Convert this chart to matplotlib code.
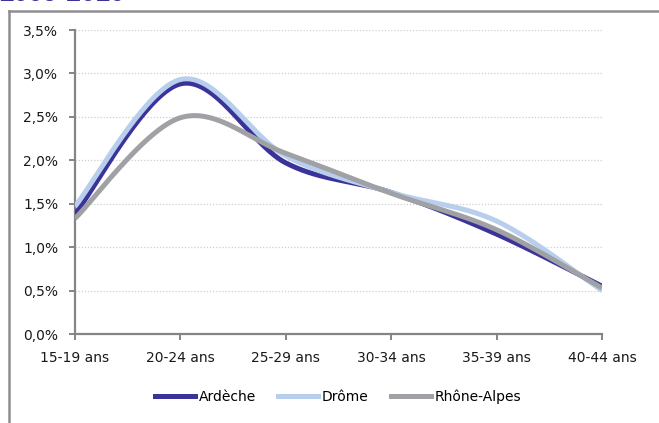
import numpy as np
import matplotlib.pyplot as plt
from matplotlib.lines import Line2D
from matplotlib.ticker import FuncFormatter

# age groups and shares (%)
ages = ['15-19 ans', '20-24 ans', '25-29 ans', '30-34 ans', '35-39 ans', '40-44 ans']
ardeche = [1.38, 2.88, 1.97, 1.63, 1.15, 0.55]
drome = [1.47, 2.93, 2.05, 1.63, 1.30, 0.50]
rhone_alpes = [1.33, 2.49, 2.08, 1.62, 1.20, 0.53]

series = [('Ardèche', ardeche, '#3b3399'),
          ('Drôme', drome, '#b7cfec'),
          ('Rhône-Alpes', rhone_alpes, '#a0a1a4')]


def smooth(y, n=40):
    # Catmull-Rom like bezier smoothing, similar to a spreadsheet "smoothed line"
    y = np.asarray(y, float)
    x = np.arange(len(y), dtype=float)
    px, py = [x[0]], [y[0]]
    for i in range(len(y) - 1):
        x0, y0 = (x[i - 1], y[i - 1]) if i > 0 else (x[i], y[i])
        x3, y3 = (x[i + 2], y[i + 2]) if i + 2 < len(y) else (x[i + 1], y[i + 1])
        c1 = (x[i] + (x[i + 1] - x0) / 6, y[i] + (y[i + 1] - y0) / 6)
        c2 = (x[i + 1] - (x3 - x[i]) / 6, y[i + 1] - (y3 - y[i]) / 6)
        t = np.linspace(0, 1, n)[1:]
        bx = (1 - t) ** 3 * x[i] + 3 * (1 - t) ** 2 * t * c1[0] + 3 * (1 - t) * t ** 2 * c2[0] + t ** 3 * x[i + 1]
        by = (1 - t) ** 3 * y[i] + 3 * (1 - t) ** 2 * t * c1[1] + 3 * (1 - t) * t ** 2 * c2[1] + t ** 3 * y[i + 1]
        px.extend(bx)
        py.extend(by)
    return np.array(px), np.array(py)


plt.rcParams['font.family'] = ['DejaVu Sans']

W, H = 659, 423
fig = plt.figure(figsize=(W / 100, H / 100), dpi=100)
ax = fig.add_axes([75 / W, 1 - 334 / H, (602 - 75) / W, (334 - 30) / H])

for name, vals, col in series:
    sx, sy = smooth(vals)
    ax.plot(sx, sy, color=col, lw=3.6, solid_capstyle='butt', label=name, zorder=3)

ax.set_xlim(0, len(ages) - 1)
ax.set_ylim(0, 3.5)
ax.set_xticks(range(len(ages)))
ax.set_xticklabels(ages)
ax.set_yticks(np.arange(0, 3.51, 0.5))
ax.yaxis.set_major_formatter(FuncFormatter(lambda v, p: f'{v:.1f}%'.replace('.', ',')))
ax.grid(axis='y', color='#cfcfcf', linestyle=(0, (1, 1.5)), lw=0.9)
ax.set_axisbelow(True)
for s in ['top', 'right']:
    ax.spines[s].set_visible(False)
for s in ['left', 'bottom']:
    ax.spines[s].set_color('#858585')
    ax.spines[s].set_linewidth(1.6)
ax.tick_params(direction='out', length=4, width=1.4, color='#858585',
               labelsize=10, labelcolor='#1a1a1a')
ax.tick_params(axis='x', pad=8)
ax.tick_params(axis='y', pad=8)

handles = [Line2D([], [], color=c, lw=3.6) for _, _, c in series]
fig.legend(handles, [n for n, _, _ in series], loc='center', ncol=3,
           bbox_to_anchor=(338 / W, 1 - 397 / H), frameon=False, fontsize=10,
           handlelength=2.9, handletextpad=0.25, columnspacing=1.6)

# outer chart frame, clipped by the image edges
fig.add_artist(Line2D([9 / W, 9 / W], [0, 1 - 11 / H], color='#8e8e92', lw=1.8))
fig.add_artist(Line2D([9 / W, 1], [1 - 11 / H, 1 - 11 / H], color='#8e8e92', lw=1.8))

fig.text(-1 / W, 1 - 1 / H, '2009-2010', color='#3b3399', fontsize=19,
         fontweight='bold', family='Liberation Sans', va='baseline', ha='left')

fig.savefig('out.png', dpi=100)
